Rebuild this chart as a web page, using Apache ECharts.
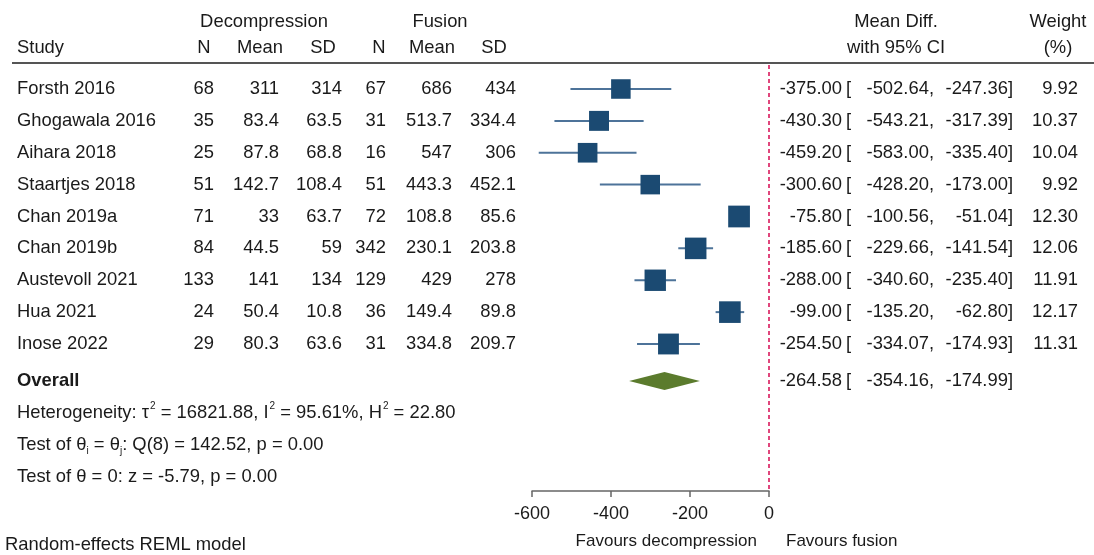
<!DOCTYPE html>
<html>
<head>
<meta charset="utf-8">
<script src="https://cdn.jsdelivr.net/npm/echarts@6/dist/echarts.min.js"></script>
<style>html,body{margin:0;padding:0;background:#fff;}#c{width:1094px;height:555px;}</style>
</head>
<body>
<div id="c"></div>
<script>
const studies = ['Forsth 2016','Ghogawala 2016','Aihara 2018','Staartjes 2018','Chan 2019a','Chan 2019b','Austevoll 2021','Hua 2021','Inose 2022'];
const n1 = [68,35,25,51,71,84,133,24,29];
const mean1 = [311,83.4,87.8,142.7,33,44.5,141,50.4,80.3];
const sd1 = [314,63.5,68.8,108.4,63.7,59,134,10.8,63.6];
const n2 = [67,31,16,51,72,342,129,36,31];
const mean2 = [686,513.7,547,443.3,108.8,230.1,429,149.4,334.8];
const sd2 = [434,334.4,306,452.1,85.6,203.8,278,89.8,209.7];
const md = [-375.00,-430.30,-459.20,-300.60,-75.80,-185.60,-288.00,-99.00,-254.50];
const ciLow = [-502.64,-543.21,-583.00,-428.20,-100.56,-229.66,-340.60,-135.20,-334.07];
const ciHigh = [-247.36,-317.39,-335.40,-173.00,-51.04,-141.54,-235.40,-62.80,-174.93];
const weight = [9.92,10.37,10.04,9.92,12.30,12.06,11.91,12.17,11.31];
const overall = [-264.58,-354.16,-174.99];
const xTicks = [-600,-400,-200,0];

const FONT = 'Liberation Sans, Arial, sans-serif';
const FS = 18.4;
const TXT = '#1a1a1a';
const OVERALL_ROW = 9.16;

const chart = echarts.init(document.getElementById('c'), null, {renderer:'canvas'});

const rowData = studies.map((s,i)=>[md[i], i, ciLow[i], ciHigh[i], weight[i]]);

chart.setOption({
  animation:false,
  backgroundColor:'#fff',
  grid:{left:532, right:1094-769, top:65, bottom:555-491},
  xAxis:{
    type:'value', min:xTicks[0], max:xTicks[xTicks.length-1], interval:200,
    splitLine:{show:false},
    axisLine:{show:true, onZero:false, lineStyle:{color:'#666', width:1.5}},
    axisTick:{show:true, length:6, lineStyle:{color:'#666', width:1.5}},
    axisLabel:{fontFamily:FONT, fontSize:18, color:TXT, margin:14}
  },
  yAxis:{type:'value', inverse:true, min:-0.753, max:12.612, show:false},
  series:[
    {
      type:'custom',
      data: rowData,
      renderItem:function(params, api){
        const est = api.value(0), r = api.value(1), lo = api.value(2), hi = api.value(3), w = api.value(4);
        const pL = api.coord([lo, r]), pH = api.coord([hi, r]), pE = api.coord([est, r]);
        const s = 6.2*Math.sqrt(w);
        return {type:'group', children:[
          {type:'line', shape:{x1:pL[0], y1:pL[1], x2:pH[0], y2:pH[1]}, style:{stroke:'#4d7399', lineWidth:2}},
          {type:'rect', shape:{x:pE[0]-s/2, y:pE[1]-s/2, width:s, height:s}, style:{fill:'#1b4a72'}}
        ]};
      },
      markLine:{
        silent:true, symbol:'none', label:{show:false},
        lineStyle:{color:'#e0467c', type:[4,3], width:2},
        data:[{xAxis:0}]
      },
      z:3
    },
    {
      type:'custom',
      data:[[overall[0], OVERALL_ROW, overall[1], overall[2]]],
      renderItem:function(params, api){
        const r = api.value(1);
        const pE = api.coord([api.value(0), r]), pL = api.coord([api.value(2), r]), pH = api.coord([api.value(3), r]);
        const h = 9;
        return {type:'polygon', shape:{points:[[pL[0],pE[1]],[pE[0],pE[1]-h],[pH[0],pE[1]],[pE[0],pE[1]+h]]}, style:{fill:'#5b7b2d'}};
      },
      z:3
    }
  ]
});

function rowY(r){ return chart.convertToPixel({yAxisIndex:0}, r); }
function t(x, y, text, align, extra){
  return Object.assign({type:'text', x:x, y:y, style:Object.assign({text:String(text), fontFamily:FONT, fontSize:FS, fill:TXT, align:align||'left', verticalAlign:'middle'}, extra||{})}, {silent:true});
}
const g = [];
// header
g.push(t(264, 22, 'Decompression', 'center'));
g.push(t(440, 22, 'Fusion', 'center'));
g.push(t(896, 22, 'Mean Diff.', 'center'));
g.push(t(1058, 22, 'Weight', 'center'));
g.push(t(17, 48, 'Study', 'left'));
const colR = [214, 279, 342, 386, 452, 516];
const hdrC = [204, 260, 323, 379, 432, 494];
const hdrs = ['N','Mean','SD','N','Mean','SD'];
hdrs.forEach((h,i)=>g.push(t(hdrC[i], 48, h, 'center')));
g.push(t(896, 48, 'with 95% CI', 'center'));
g.push(t(1058, 48, '(%)', 'center'));
g.push({type:'line', shape:{x1:12, y1:63, x2:1094, y2:63}, style:{stroke:'#555', lineWidth:2}, silent:true});

const cols = [n1, mean1, sd1, n2, mean2, sd2];
studies.forEach((s,i)=>{
  const y = rowY(i);
  g.push(t(17, y, s, 'left'));
  cols.forEach((c,j)=>g.push(t(colR[j], y, c[i], 'right')));
  g.push(t(842, y, md[i].toFixed(2), 'right'));
  g.push(t(846, y, '[', 'left'));
  g.push(t(934, y, ciLow[i].toFixed(2)+',', 'right'));
  g.push(t(1013, y, ciHigh[i].toFixed(2)+']', 'right'));
  g.push(t(1078, y, weight[i].toFixed(2), 'right'));
});
const yo = rowY(OVERALL_ROW);
g.push(t(17, yo, 'Overall', 'left', {fontWeight:'bold'}));
g.push(t(842, yo, overall[0].toFixed(2), 'right'));
g.push(t(846, yo, '[', 'left'));
g.push(t(934, yo, overall[1].toFixed(2)+',', 'right'));
g.push(t(1013, yo, overall[2].toFixed(2)+']', 'right'));

const rich = {
  n:{fontFamily:FONT, fontSize:FS, fill:TXT, lineHeight:24, verticalAlign:'middle'},
  sup:{fontFamily:FONT, fontSize:10, fill:TXT, lineHeight:24, verticalAlign:'top', padding:[0,0,0,1]},
  sub:{fontFamily:FONT, fontSize:10, fill:TXT, lineHeight:24, verticalAlign:'bottom'}
};
function rt(x, y, text){
  return {type:'text', x:x, y:y, silent:true, style:{text:text, rich:rich, fontFamily:FONT, fontSize:FS, fill:TXT, align:'left', verticalAlign:'middle'}};
}
g.push(rt(17, rowY(OVERALL_ROW+1), '{n|Heterogeneity: τ}{sup|2}{n| = 16821.88, I}{sup|2}{n| = 95.61%, H}{sup|2}{n| = 22.80}'));
g.push(rt(17, rowY(OVERALL_ROW+2), '{n|Test of θ}{sub|i}{n| = θ}{sub|j}{n|: Q(8) = 142.52, p = 0.00}'));
g.push(rt(17, rowY(OVERALL_ROW+3), '{n|Test of θ = 0: z = -5.79, p = 0.00}'));
g.push(t(5, 545, 'Random-effects REML model', 'left'));
g.push(t(757, 541, 'Favours decompression', 'right', {fontSize:17}));
g.push(t(786, 541, 'Favours fusion', 'left', {fontSize:17}));

chart.setOption({graphic:g});
</script>
</body>
</html>
